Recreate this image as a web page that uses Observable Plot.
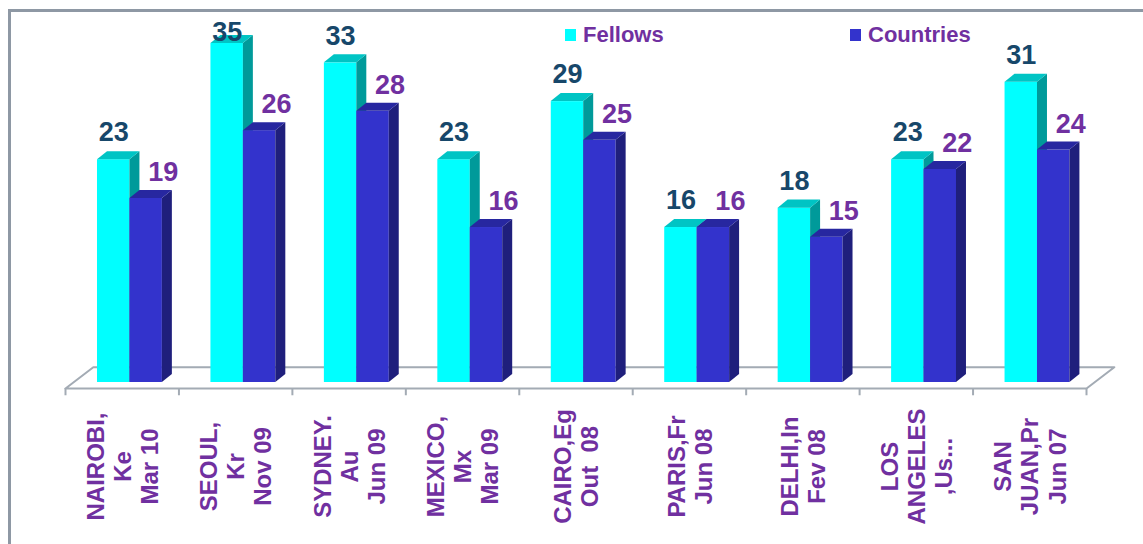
<!DOCTYPE html>
<html>
<head>
<meta charset="utf-8">
<script src="https://cdn.jsdelivr.net/npm/d3@7"></script>
<script src="https://cdn.jsdelivr.net/npm/@observablehq/plot@0.6"></script>
<style>
  body { margin: 0; background: #fff; }
  #wrap { position: relative; width: 1143px; height: 544px; overflow: hidden; font-family: "Liberation Sans", Arial, sans-serif; }
  #chart { position: absolute; left: 0; top: 0; }
  .frameTop { position: absolute; left: 8px; top: 9px; width: 1135px; height: 3px; background: #8e98a4; }
  .frameLeft { position: absolute; left: 8px; top: 9px; width: 3px; height: 535px; background: #8e98a4; }
  .legend { position: absolute; top: 22px; font-size: 22px; font-weight: bold; color: #7030a0; display: flex; align-items: center; }
  .legend .sw { width: 11px; height: 12px; margin-right: 7px; }
</style>
</head>
<body>
<div id="wrap">
  <div id="chart"></div>
  <div class="frameTop"></div>
  <div class="frameLeft"></div>
  <div class="legend" style="left:565px"><span class="sw" style="background:#00ffff"></span>Fellows</div>
  <div class="legend" style="left:850px"><span class="sw" style="background:#3333cc"></span>Countries</div>
</div>
<script>
// ---- data ----
const categories = ["NAIROBI,\nKe\nMar 10", "SEOUL,\nKr\nNov 09", "SYDNEY.\nAu\nJun 09", "MEXICO,\nMx\nMar 09", "CAIRO,Eg\nOut  08", "PARIS,Fr\nJun 08", "DELHI,In\nFev 08", "LOS\nANGELES\n,Us...", "SAN\nJUAN,Pr\nJun 07"];
const fellows = [23, 35, 33, 23, 29, 16, 18, 23, 31];
const countries = [19, 26, 28, 16, 25, 16, 15, 22, 24];
const seriesNames = ["Fellows", "Countries"];

// ---- geometry (in scale units) ----
const BAR_W = 0.286;           // front face width (x units)
const OFF = [0.282, 0.568];    // offset of each series from band start
const DX = 0.088;              // 3D depth, x units
const DY = 0.83;               // 3D depth, y units
const colors = {
  Fellows:   {front: "#00ffff", top: "#00c4c4", side: "#009a9a"},
  Countries: {front: "#3333cc", top: "#2727a0", side: "#1f1f7c"}
};

const rows = [];
categories.forEach((c, i) => {
  [fellows[i], countries[i]].forEach((v, s) => {
    const x1 = i - 0.5 + OFF[s];
    rows.push({i, series: seriesNames[s], v, x1, x2: x1 + BAR_W, id: i + "-" + s});
  });
});
function sidePts(r) {
  return [
    {id: r.id, x: r.x2, y1: 0, y2: r.v},
    {id: r.id, x: r.x2 + DX, y1: DY, y2: r.v + DY}
  ];
}
function topPts(r) {
  return [
    {id: r.id, y: r.v, x1: r.x1, x2: r.x2},
    {id: r.id, y: r.v + DY, x1: r.x1 + DX, x2: r.x2 + DX}
  ];
}

const n = categories.length;
const yFront = -0.62, yBack = 1.58, floorDX = 0.245;
const floorPts = [
  {x: -0.5, y: yFront}, {x: n - 0.5, y: yFront},
  {x: n - 0.5 + floorDX, y: yBack}, {x: -0.5 + floorDX, y: yBack},
  {x: -0.5, y: yFront}
];
const tickPos = d3.range(n + 1).map(k => k - 0.5);

const marks = [
  Plot.line(floorPts, {x: "x", y: "y", stroke: "#a3abb4", strokeWidth: 2})
];
for (const s of seriesNames) {
  const rs = rows.filter(r => r.series === s);
  const c = colors[s];
  marks.push(
    Plot.rect(rs, {x1: "x1", x2: "x2", y1: 0, y2: "v", fill: c.front}),
    Plot.areaY(rs.flatMap(sidePts), {x: "x", y1: "y1", y2: "y2", z: "id", fill: c.side}),
    Plot.areaX(rs.flatMap(topPts), {y: "y", x1: "x1", x2: "x2", z: "id", fill: c.top})
  );
}
marks.push(
  Plot.ruleX(tickPos, {x: d => d, y1: yFront, y2: yFront - 0.75, stroke: "#a3abb4", strokeWidth: 2}),
  // value labels
  Plot.text(rows.filter(r => r.series === "Fellows"), {
    x: r => (r.x1 + r.x2) / 2, y: r => Math.min(r.v, 33.35), text: r => String(r.v),
    dy: -27, fill: "#17476a", fontSize: 27, fontWeight: "bold", fontFamily: "Liberation Sans, Arial, sans-serif"
  }),
  Plot.text(rows.filter(r => r.series === "Countries"), {
    x: r => (r.x1 + r.x2) / 2, y: "v", text: r => String(r.v),
    dx: 17, dy: -26, fill: "#7030a0", fontSize: 27, fontWeight: "bold", fontFamily: "Liberation Sans, Arial, sans-serif"
  }),
  // category labels
  Plot.text(categories.map((c, i) => ({c, i})), {
    x: "i", text: "c", frameAnchor: "bottom", dy: 84, rotate: -90,
    textAnchor: "middle", lineAnchor: "middle", lineHeight: 1.13,
    fill: "#7030a0", fontSize: 24, fontWeight: "bold", fontFamily: "Liberation Sans, Arial, sans-serif"
  })
);

const chart = Plot.plot({
  width: 1143,
  height: 544,
  marginLeft: 65,
  marginRight: 57,
  marginTop: 43,
  marginBottom: 162,
  x: {type: "linear", domain: [-0.5, n - 0.5], axis: null},
  y: {type: "linear", domain: [0, 35], axis: null},
  style: {background: "transparent", overflow: "visible"},
  marks
});
document.getElementById("chart").appendChild(chart);
</script>
</body>
</html>
